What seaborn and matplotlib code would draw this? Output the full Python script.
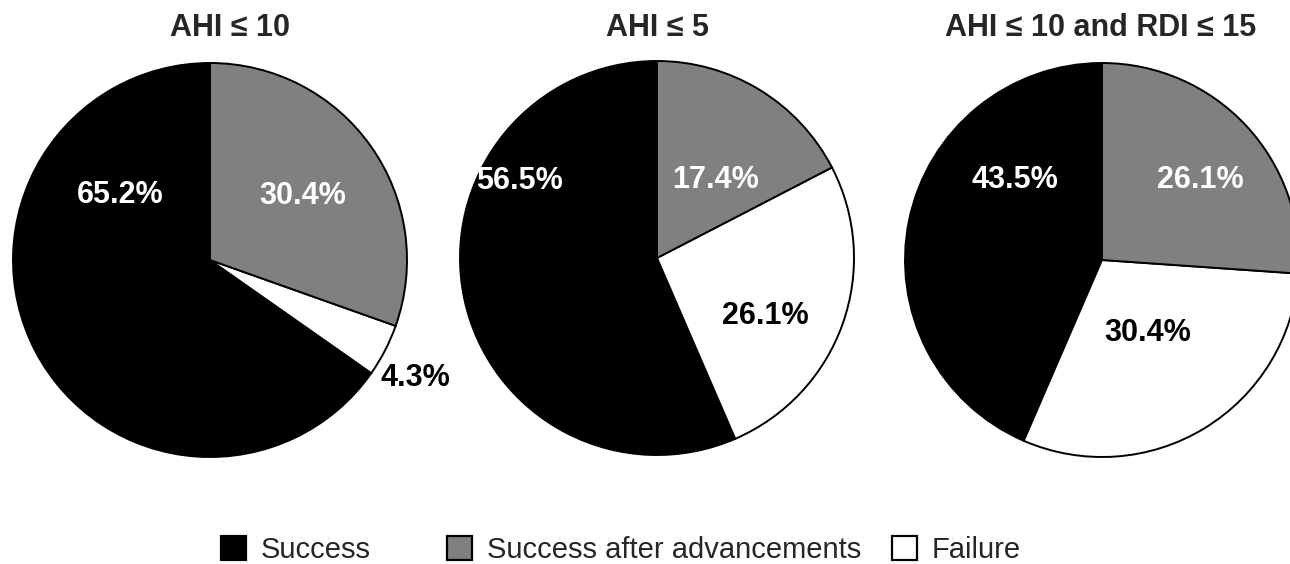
import matplotlib
matplotlib.use("Agg")
import matplotlib.pyplot as plt
import matplotlib.patches as mpatches
import seaborn as sns

# ---------------- data ----------------
titles = ["AHI \u2264 10", "AHI \u2264 5", "AHI \u2264 10 and RDI \u2264 15"]
categories = ["Success", "Failure", "Success after advancements"]
success = [65.2, 56.5, 43.5]
failure = [4.3, 26.1, 30.4]
after_adv = [30.4, 17.4, 26.1]

colors = {"Success": "#000000", "Failure": "#ffffff",
          "Success after advancements": "#808080"}
text_colors = {"Success": "white", "Failure": "black",
               "Success after advancements": "white"}

# label positions (in pie radius units), per pie, per category
label_pos = [
    [(-0.457, 0.330), (1.041, -0.599), (0.47, 0.325)],
    [(-0.70, 0.391), (0.548, -0.294), (0.299, 0.396)],
    [(-0.442, 0.406), (0.234, -0.371), (0.497, 0.406)],
]

sns.set_theme(style="white")
plt.rcParams["font.family"] = ["Liberation Sans", "DejaVu Sans"]

fig = plt.figure(figsize=(12.9, 5.64), dpi=100)
W, H = 1290, 564
R = 197
centers = [(210, 260), (657, 258), (1102, 260)]
title_x = [230, 657, 1101]

for i in range(3):
    cx, cy = centers[i]
    ax = fig.add_axes([(cx - R) / W, (H - cy - R) / H, 2 * R / W, 2 * R / H])
    vals = [success[i], failure[i], after_adv[i]]
    wedges, texts = ax.pie(
        vals, colors=[colors[c] for c in categories], startangle=90,
        counterclock=True,
        wedgeprops=dict(edgecolor="black", linewidth=1.4))
    for j, v in enumerate(vals):
        x, y = label_pos[i][j]
        ax.text(x, y, f"{v:.1f}%", ha="center", va="center", fontsize=22,
                fontweight="bold", color=text_colors[categories[j]], clip_on=False)
    ax.set_xlim(-1, 1)
    ax.set_ylim(-1, 1)
    ax.set_aspect("auto")
    for w in wedges:
        w.set_clip_on(False)
    fig.text(title_x[i] / W, 1 - 28 / H, titles[i], ha="center", va="center",
             fontsize=22, fontweight="bold")

# legend, three separate entries like the original layout
legend_x = [221, 447, 892]
legend_order = ["Success", "Success after advancements", "Failure"]
for x, name in zip(legend_x, legend_order):
    handle = mpatches.Patch(facecolor=colors[name], edgecolor="black", linewidth=1.6)
    fig.legend([handle], [name], loc="center left",
               bbox_to_anchor=(x / W, 14 / H), frameon=False,
               fontsize=21, handlelength=0.86, handleheight=0.86,
               handletextpad=0.5, borderpad=0, borderaxespad=0)

fig.savefig("out.png", dpi=100)
